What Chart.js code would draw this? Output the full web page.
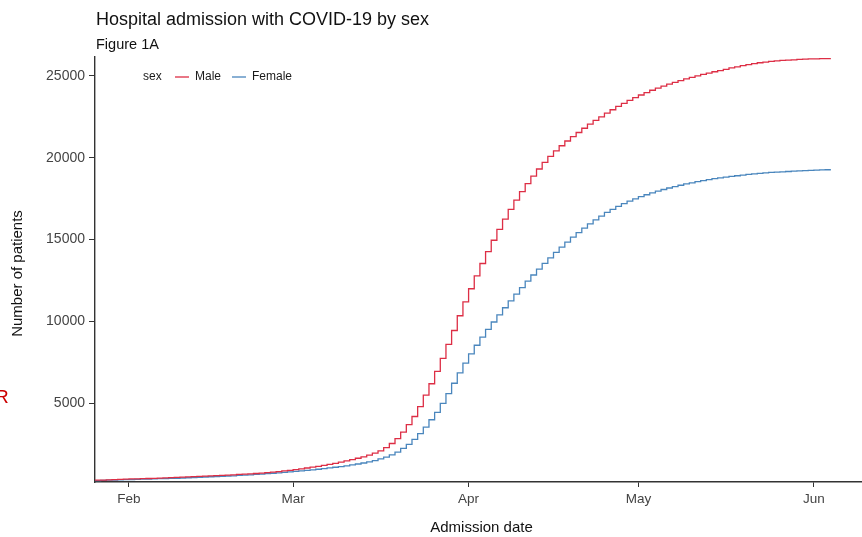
<!DOCTYPE html>
<html><head><meta charset="utf-8">
<script src="https://cdn.jsdelivr.net/npm/chart.js@4.4.1/dist/chart.umd.min.js"></script>
<style>
html,body{margin:0;padding:0;background:#fff;}
#wrap{position:relative;width:862px;height:537px;overflow:hidden;background:#fff;}
#c{position:absolute;left:0;top:0;}
#r{position:absolute;left:-5px;top:386px;color:#cc0000;font:19px "Liberation Sans",sans-serif;}
</style></head><body>
<div id="wrap"><canvas id="c" width="862" height="537"></canvas><div id="r">R</div></div>
<script>
// First value corresponds to day index 25 (Jan 1 = 0), i.e. Jan 26, 2020; one value per day
const firstDay = 25;
const maleCumulative = [
 300,310,320,335,345,360,375,385,395,405,
 415,425,440,455,470,485,500,515,530,545,
 560,575,590,605,620,640,660,680,700,720,
 745,770,800,835,875,915,960,1005,1055,1105,
 1160,1215,1275,1340,1410,1485,1565,1650,1740,1840,
 1960,2100,2300,2550,2850,3250,3700,4200,4800,5500,
 6200,6950,7750,8600,9450,10350,11200,12000,12780,13540,
 14270,14960,15620,16250,16850,17410,17930,18420,18880,19310,
 19710,20080,20420,20730,21020,21290,21540,21800,22050,22280,
 22500,22720,22930,23130,23320,23500,23670,23830,23980,24120,
 24250,24370,24490,24600,24710,24810,24910,25000,25090,25170,
 25250,25320,25400,25480,25550,25620,25690,25750,25800,25840,
 25880,25910,25940,25960,25980,26000,26015,26030,26040,26050,
 26055
];
const femaleCumulative = [
 280,290,300,310,320,330,340,350,360,370,
 380,390,400,410,420,430,445,460,475,490,
 505,520,535,550,565,580,600,620,640,660,
 685,710,735,760,790,820,850,880,910,945,
 980,1020,1060,1100,1140,1190,1240,1300,1360,1430,
 1510,1610,1720,1860,2030,2250,2500,2800,3150,3550,
 4000,4450,5000,5600,6230,6860,7460,8020,8550,9050,
 9520,9970,10400,10840,11260,11670,12070,12460,12840,13200,
 13550,13890,14220,14540,14850,15150,15430,15700,15960,16210,
 16440,16660,16850,17030,17200,17350,17490,17620,17740,17850,
 17960,18060,18150,18240,18320,18400,18470,18540,18600,18660,
 18720,18770,18820,18860,18900,18940,18980,19010,19040,19070,
 19100,19120,19140,19160,19180,19200,19215,19230,19245,19255,
 19265
];
const seriesNames = ['Male','Female'];
const seriesColors = ['#DD2E45','#4A86BD'];
const xTickDays = [31,60,91,121,152];
const xTickLabels = ['Feb','Mar','Apr','May','Jun'];
const yTickValues = [5000,10000,15000,20000,25000];

const FONT = '"Liberation Sans", Arial, sans-serif';
const toPoints = arr => arr.map((v,i)=>({x:firstDay+i,y:v}));

const textPlugin = {
  id:'texts',
  afterDraw(chart){
    const c = chart.ctx, a = chart.chartArea;
    c.save();
    c.textBaseline='middle';
    c.fillStyle='#111';
    c.textAlign='left';
    c.font='18px '+FONT;
    c.fillText('Hospital admission with COVID-19 by sex', a.left+1, 20);
    c.font='14.5px '+FONT;
    c.fillText('Figure 1A', a.left+1, 45);
    // legend
    const ly = 77;
    c.font='12px '+FONT;
    c.fillStyle='#1a1a1a';
    c.fillText('sex', 143, ly);
    const items = [{x0:175,tx:195},{x0:232,tx:252}];
    items.forEach((it,i)=>{
      c.strokeStyle=seriesColors[i];
      c.lineWidth=1.3;
      c.beginPath(); c.moveTo(it.x0,ly); c.lineTo(it.x0+14,ly); c.stroke();
      c.fillText(seriesNames[i], it.tx, ly);
    });
    // axis titles
    c.font='15px '+FONT;
    c.fillStyle='#111';
    c.textAlign='center';
    c.fillText('Admission date', (a.left+a.right)/2+3, 528);
    c.translate(18,(a.top+a.bottom)/2+4);
    c.rotate(-Math.PI/2);
    c.fillText('Number of patients',0,0);
    c.restore();
  }
};

new Chart(document.getElementById('c').getContext('2d'),{
  type:'line',
  data:{datasets:[
    {label:seriesNames[0],data:toPoints(maleCumulative),borderColor:seriesColors[0],borderWidth:1.3,pointRadius:0,stepped:'after',fill:false},
    {label:seriesNames[1],data:toPoints(femaleCumulative),borderColor:seriesColors[1],borderWidth:1.3,pointRadius:0,stepped:'after',fill:false}
  ]},
  options:{
    responsive:false,animation:false,
    layout:{padding:{top:57,right:0,bottom:0,left:0}},
    plugins:{legend:{display:false},tooltip:{enabled:false},title:{display:false}},
    scales:{
      x:{type:'linear',min:25,max:160.5,
        afterBuildTicks:s=>{s.ticks=xTickDays.map(v=>({value:v}));},
        afterFit:s=>{s.height=55;},
        ticks:{callback:(v,i)=>xTickLabels[i],color:'#444',font:{family:FONT,size:13.5},padding:4,maxRotation:0,autoSkip:false},
        grid:{drawOnChartArea:false,drawTicks:true,tickLength:5,tickColor:'#333',color:'#333'},
        border:{display:true,color:'#333',width:1.4}
      },
      y:{type:'linear',min:200,max:26150,
        afterBuildTicks:s=>{s.ticks=yTickValues.map(v=>({value:v}));},
        afterFit:s=>{s.width=95;},
        ticks:{callback:v=>String(v),color:'#444',font:{family:FONT,size:14},padding:4},
        grid:{drawOnChartArea:false,drawTicks:true,tickLength:6,tickColor:'#333',color:'#333'},
        border:{display:true,color:'#333',width:1.4}
      }
    }
  },
  plugins:[textPlugin]
});
</script>
</body></html>
